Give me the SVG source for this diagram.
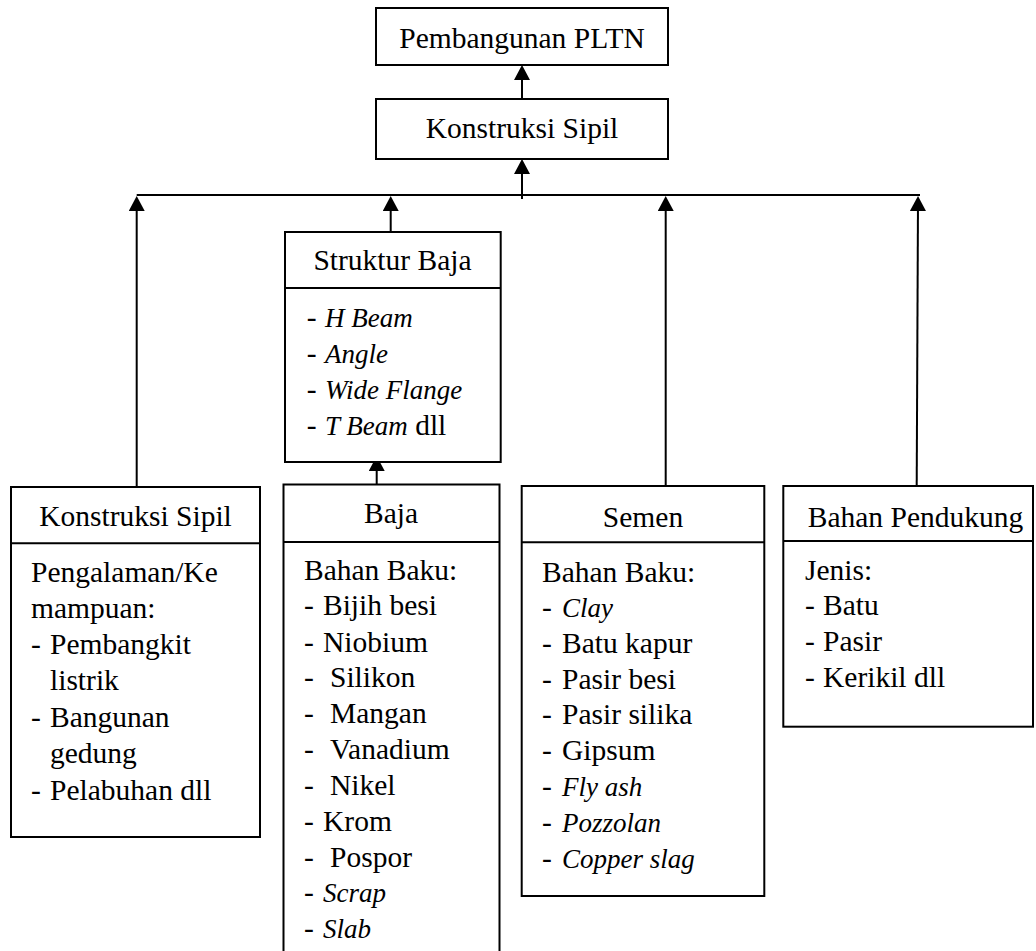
<svg xmlns="http://www.w3.org/2000/svg" width="1036" height="951" viewBox="0 0 1036 951">
<style>
  .box { fill: #ffffff; stroke: #000000; stroke-width: 2; }
  .div { stroke: #000000; stroke-width: 2; }
  .conn { fill: none; stroke: #000000; stroke-width: 2; }
  text { font-family: "Liberation Serif", "Times New Roman", serif; font-size: 29.5px; fill: #000000; }
  .t { text-anchor: middle; }
  .i { font-style: italic; font-size: 27px; }
</style>
<defs>
  <marker id="arr" markerUnits="userSpaceOnUse" markerWidth="16" markerHeight="16" refX="11" refY="8" orient="auto" viewBox="0 0 15 16">
    <path d="M0,0 L15,8 L0,16 Z" fill="#000000"/>
  </marker>
</defs>
<rect x="0" y="0" width="1036" height="951" fill="#ffffff"/>

<g id="connectors">
  <line class="conn" x1="522" y1="99" x2="522" y2="69" marker-end="url(#arr)"/>
  <line class="conn" x1="522" y1="199" x2="522" y2="163" marker-end="url(#arr)"/>
  <line class="conn" x1="136.7" y1="195" x2="920" y2="195"/>
  <line class="conn" x1="136.7" y1="487" x2="136.7" y2="200" marker-end="url(#arr)"/>
  <line class="conn" x1="390.7" y1="232" x2="390.7" y2="200" marker-end="url(#arr)"/>
  <line class="conn" x1="665.7" y1="486" x2="665.7" y2="200" marker-end="url(#arr)"/>
  <line class="conn" x1="916.7" y1="486" x2="918" y2="200" marker-end="url(#arr)"/>
  <line class="conn" x1="376.7" y1="484.5" x2="376.7" y2="460" marker-end="url(#arr)"/>
</g>

<g id="node-pltn">
  <rect class="box" x="376" y="8" width="292" height="57"/>
  <text class="t" x="522" y="48">Pembangunan PLTN</text>
</g>

<g id="node-konstruksi-top">
  <rect class="box" x="376" y="99" width="292" height="60"/>
  <text class="t" x="522" y="138">Konstruksi Sipil</text>
</g>

<g id="node-struktur-baja">
  <rect class="box" x="285" y="232" width="215.7" height="230"/>
  <line class="div" x1="285" y1="288" x2="500.7" y2="288"/>
  <text class="t" x="392.5" y="270">Struktur Baja</text>
  <text x="306.7" y="327">-</text><text class="i" x="325" y="327">H Beam</text>
  <text x="306.7" y="363">-</text><text class="i" x="325" y="363">Angle</text>
  <text x="306.7" y="398.5">-</text><text class="i" x="325" y="398.5">Wide Flange</text>
  <text x="306.7" y="435">-</text><text x="325" y="435"><tspan class="i">T Beam</tspan> dll</text>
</g>

<g id="node-konstruksi-sipil">
  <rect class="box" x="11" y="487" width="249" height="350"/>
  <line class="div" x1="11" y1="543.3" x2="260" y2="543.3"/>
  <text class="t" x="135.5" y="526">Konstruksi Sipil</text>
  <text x="31" y="582">Pengalaman/Ke</text>
  <text x="31" y="618">mampuan:</text>
  <text x="31" y="654">-</text><text x="50" y="654">Pembangkit</text>
  <text x="50" y="690">listrik</text>
  <text x="31" y="727">-</text><text x="50" y="727">Bangunan</text>
  <text x="50" y="763">gedung</text>
  <text x="31" y="800">-</text><text x="50" y="800">Pelabuhan dll</text>
</g>

<g id="node-baja">
  <rect class="box" x="283.5" y="484.5" width="216" height="480"/>
  <line class="div" x1="283.5" y1="542" x2="499.5" y2="542"/>
  <text class="t" x="391" y="523">Baja</text>
  <text x="304" y="580">Bahan Baku:</text>
  <text x="304" y="615">-</text><text x="323" y="615">Bijih besi</text>
  <text x="304" y="651.5">-</text><text x="323" y="651.5">Niobium</text>
  <text x="304" y="687">-</text><text x="330" y="687">Silikon</text>
  <text x="304" y="723">-</text><text x="330" y="723">Mangan</text>
  <text x="304" y="759">-</text><text x="330" y="759">Vanadium</text>
  <text x="304" y="795">-</text><text x="330" y="795">Nikel</text>
  <text x="304" y="831">-</text><text x="323" y="831">Krom</text>
  <text x="304" y="867">-</text><text x="330" y="867">Pospor</text>
  <text x="304" y="902">-</text><text class="i" x="323" y="902">Scrap</text>
  <text x="304" y="938">-</text><text class="i" x="323" y="938">Slab</text>
</g>

<g id="node-semen">
  <rect class="box" x="521.7" y="486" width="242.6" height="410"/>
  <line class="div" x1="521.7" y1="542.3" x2="764.3" y2="542.3"/>
  <text class="t" x="643" y="527">Semen</text>
  <text x="542" y="582">Bahan Baku:</text>
  <text x="542" y="617">-</text><text class="i" x="562" y="617">Clay</text>
  <text x="542" y="653">-</text><text x="562" y="653">Batu kapur</text>
  <text x="542" y="688.5">-</text><text x="562" y="688.5">Pasir besi</text>
  <text x="542" y="724">-</text><text x="562" y="724">Pasir silika</text>
  <text x="542" y="760">-</text><text x="562" y="760">Gipsum</text>
  <text x="542" y="796">-</text><text class="i" x="562" y="796">Fly ash</text>
  <text x="542" y="832">-</text><text class="i" x="562" y="832">Pozzolan</text>
  <text x="542" y="868">-</text><text class="i" x="562" y="868">Copper slag</text>
</g>

<g id="node-bahan-pendukung">
  <rect class="box" x="783.3" y="486" width="249.7" height="240.7"/>
  <line class="div" x1="783.3" y1="541" x2="1033" y2="541"/>
  <text class="t" x="915.5" y="527">Bahan Pendukung</text>
  <text x="805" y="580">Jenis:</text>
  <text x="805" y="615">-</text><text x="823" y="615">Batu</text>
  <text x="805" y="651">-</text><text x="823" y="651">Pasir</text>
  <text x="805" y="687">-</text><text x="823" y="687">Kerikil dll</text>
</g>
</svg>
